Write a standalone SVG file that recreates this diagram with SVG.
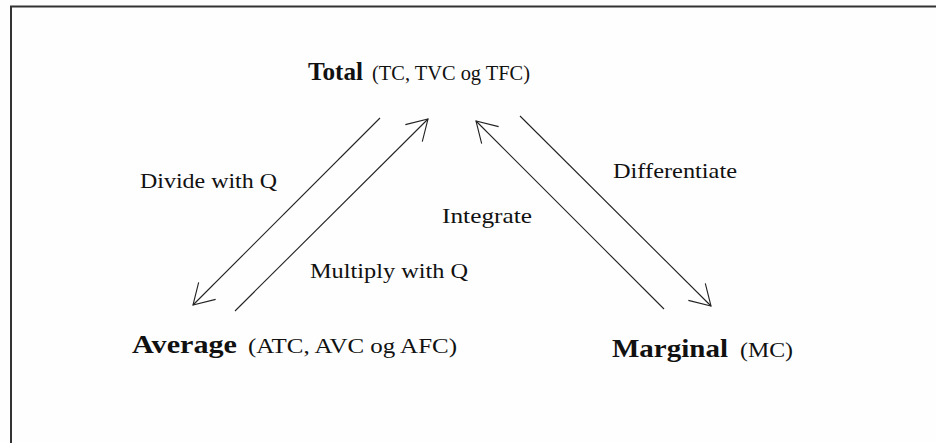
<svg xmlns="http://www.w3.org/2000/svg" width="936" height="443" viewBox="0 0 936 443">
  <style>
    .t { font-family: "Liberation Serif", "Times New Roman", serif; fill: #111; }
    .b { font-weight: bold; font-size: 26px; }
    .r { font-size: 21px; }
    .lbl { font-size: 21px; }
    .conn line { stroke: #222; stroke-width: 1.1; fill: none; marker-end: url(#arr); }
  </style>
  <defs>
    <marker id="arr" markerUnits="userSpaceOnUse" viewBox="-24 -14 26 28" markerWidth="26" markerHeight="28" refX="0" refY="0" orient="auto">
      <path d="M -20,-12 L 0,0 L -20,12" fill="none" stroke="#222" stroke-width="1.1"/>
    </marker>
  </defs>
  <rect x="0" y="0" width="936" height="443" fill="#fefefe"/>
  <rect x="11" y="6.5" width="940" height="460" fill="none" stroke="#333" stroke-width="2"/>

  <g id="total">
    <text class="t b" x="308" y="80" textLength="55" lengthAdjust="spacingAndGlyphs">Total</text>
    <text class="t r" x="372" y="80" textLength="158" lengthAdjust="spacingAndGlyphs">(TC, TVC og TFC)</text>
  </g>
  <g id="average">
    <text class="t b" x="132" y="353" textLength="105" lengthAdjust="spacingAndGlyphs">Average</text>
    <text class="t r" x="248" y="353" textLength="209" lengthAdjust="spacingAndGlyphs">(ATC, AVC og AFC)</text>
  </g>
  <g id="marginal">
    <text class="t b" x="612" y="357" textLength="116" lengthAdjust="spacingAndGlyphs">Marginal</text>
    <text class="t r" x="740" y="357" textLength="53" lengthAdjust="spacingAndGlyphs">(MC)</text>
  </g>

  <g id="connectors" class="conn">
    <line x1="380" y1="118" x2="193" y2="305"/>
    <line x1="235" y1="311" x2="428" y2="119"/>
    <line x1="664" y1="309" x2="476" y2="121"/>
    <line x1="520" y1="116" x2="711" y2="306"/>
  </g>

  <g id="labels">
    <text class="t lbl" x="140" y="188" textLength="137" lengthAdjust="spacingAndGlyphs">Divide with Q</text>
    <text class="t lbl" x="310" y="278" textLength="158" lengthAdjust="spacingAndGlyphs">Multiply with Q</text>
    <text class="t lbl" x="442" y="223" textLength="90" lengthAdjust="spacingAndGlyphs">Integrate</text>
    <text class="t lbl" x="613" y="178" textLength="124" lengthAdjust="spacingAndGlyphs">Differentiate</text>
  </g>
</svg>
